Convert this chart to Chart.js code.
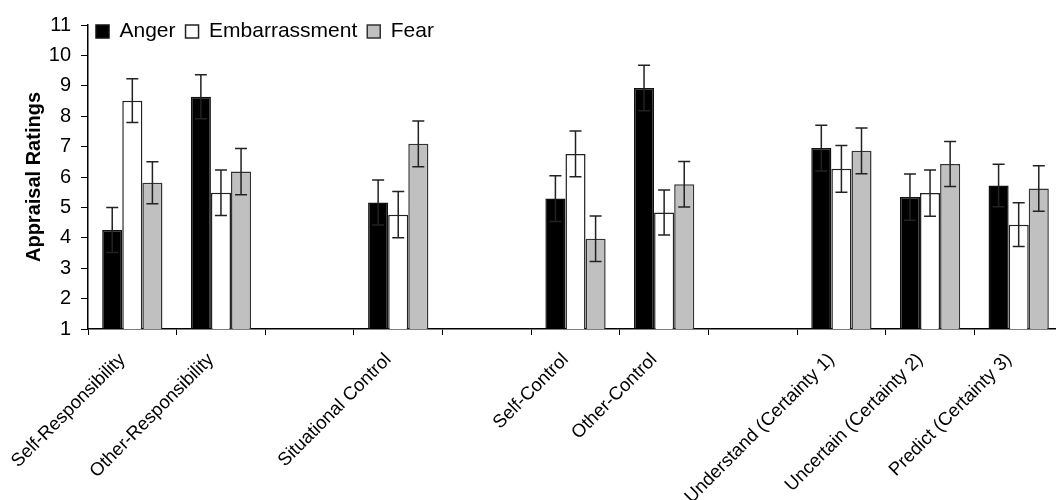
<!DOCTYPE html>
<html>
<head>
<meta charset="utf-8">
<script src="https://cdn.jsdelivr.net/npm/chart.js@4"></script>
<style>
  html, body { margin: 0; padding: 0; background: #fff; overflow: hidden; }
  #wrap { width: 1064px; height: 500px; }
</style>
</head>
<body>
<div id="wrap"><canvas id="chart" width="1064" height="500"></canvas></div>
<script>
// categories (blank slots are the gaps between groups)
const categories = [
  'Self-Responsibility', 'Other-Responsibility', '', 'Situational Control', '',
  'Self-Control', 'Other-Control', '', 'Understand (Certainty 1)',
  'Uncertain (Certainty 2)', 'Predict (Certainty 3)'
];
const angerMeans = [4.26, 8.64, null, 5.16, null, 5.29, 8.93, null, 6.95, 5.34, 5.72];
const embarrassmentMeans = [8.51, 5.48, null, 4.76, null, 6.76, 4.83, null, 6.27, 5.47, 4.43];
const fearMeans = [5.81, 6.18, null, 7.09, null, 3.97, 5.76, null, 6.86, 6.43, 5.62];
const angerErr = [0.74, 0.72, null, 0.74, null, 0.75, 0.75, null, 0.75, 0.76, 0.70];
const embarrassmentErr = [0.72, 0.75, null, 0.76, null, 0.75, 0.74, null, 0.77, 0.76, 0.72];
const fearErr = [0.69, 0.76, null, 0.75, null, 0.75, 0.75, null, 0.75, 0.74, 0.75];
const yTicks = [1, 2, 3, 4, 5, 6, 7, 8, 9, 10, 11];

const FONT = "'Liberation Sans', Arial, sans-serif";

// draws the error bars on top of each bar
const errorBars = {
  id: 'errorBars',
  afterDatasetsDraw(chart) {
    const ctx = chart.ctx;
    const y = chart.scales.y;
    ctx.save();
    ctx.strokeStyle = '#222';
    ctx.lineWidth = 1.5;
    chart.data.datasets.forEach((ds, i) => {
      const meta = chart.getDatasetMeta(i);
      meta.data.forEach((bar, j) => {
        const v = ds.data[j];
        const e = ds.errors[j];
        if (v == null || e == null) return;
        const top = y.getPixelForValue(v + e);
        const bot = y.getPixelForValue(v - e);
        ctx.beginPath();
        ctx.moveTo(bar.x, top); ctx.lineTo(bar.x, bot);
        ctx.moveTo(bar.x - 6, top); ctx.lineTo(bar.x + 6, top);
        ctx.moveTo(bar.x - 6, bot); ctx.lineTo(bar.x + 6, bot);
        ctx.stroke();
      });
    });
    ctx.restore();
  }
};

// move the legend into the top left corner of the plot
const legendSpot = {
  id: 'legendSpot',
  afterLayout(chart) {
    const lg = chart.legend;
    const area = chart.chartArea;
    const w = lg.width, h = lg.height;
    lg.left = area.left - 2;
    lg.top = area.top - 14;
    lg.right = lg.left + w;
    lg.bottom = lg.top + h;
  }
};

new Chart(document.getElementById('chart'), {
  type: 'bar',
  data: {
    labels: categories,
    datasets: [
      { label: 'Anger', data: angerMeans, errors: angerErr,
        backgroundColor: '#000000', borderColor: '#111', borderWidth: 1.5 },
      { label: 'Embarrassment', data: embarrassmentMeans, errors: embarrassmentErr,
        backgroundColor: '#ffffff', borderColor: '#222', borderWidth: 1.5 },
      { label: 'Fear', data: fearMeans, errors: fearErr,
        backgroundColor: '#c0c0c0', borderColor: '#333', borderWidth: 1.5 }
    ]
  },
  options: {
    responsive: false,
    animation: false,
    // legend is ~41px tall, pulled back up so the plot starts at y = 25
    layout: { padding: { top: -16, right: 1, left: 0, bottom: 0 } },
    datasets: { bar: { categoryPercentage: 0.68, barPercentage: 1.0 } },
    plugins: {
      legend: {
        position: 'top',
        align: 'start',
        labels: {
          color: '#000',
          font: { family: FONT, size: 21 },
          boxWidth: 13,
          boxHeight: 13,
          padding: 10
        }
      },
      tooltip: { enabled: false }
    },
    scales: {
      x: {
        grid: { drawOnChartArea: false, color: '#000', tickLength: 6, tickWidth: 1 },
        border: { color: '#000', width: 1.5 },
        ticks: {
          color: '#000',
          font: { family: FONT, size: 18.5 },
          autoSkip: false,
          minRotation: 45,
          maxRotation: 45,
          padding: 14,
          labelOffset: -10
        },
        afterFit(scale) { scale.height = 171; }
      },
      y: {
        min: 1,
        max: 11,
        grid: { drawOnChartArea: false, color: '#000', tickLength: 7, tickWidth: 1 },
        border: { color: '#000', width: 1.5 },
        afterBuildTicks(scale) { scale.ticks = yTicks.map(v => ({ value: v })); },
        ticks: {
          color: '#000',
          font: { family: FONT, size: 20 },
          padding: 10
        },
        title: {
          display: true,
          text: 'Appraisal Ratings',
          color: '#000',
          font: { family: FONT, size: 20, weight: 'bold' },
          padding: { top: 22, bottom: 0 }
        },
        afterFit(scale) { scale.width = 88; }
      }
    }
  },
  plugins: [errorBars, legendSpot]
});
</script>
</body>
</html>
